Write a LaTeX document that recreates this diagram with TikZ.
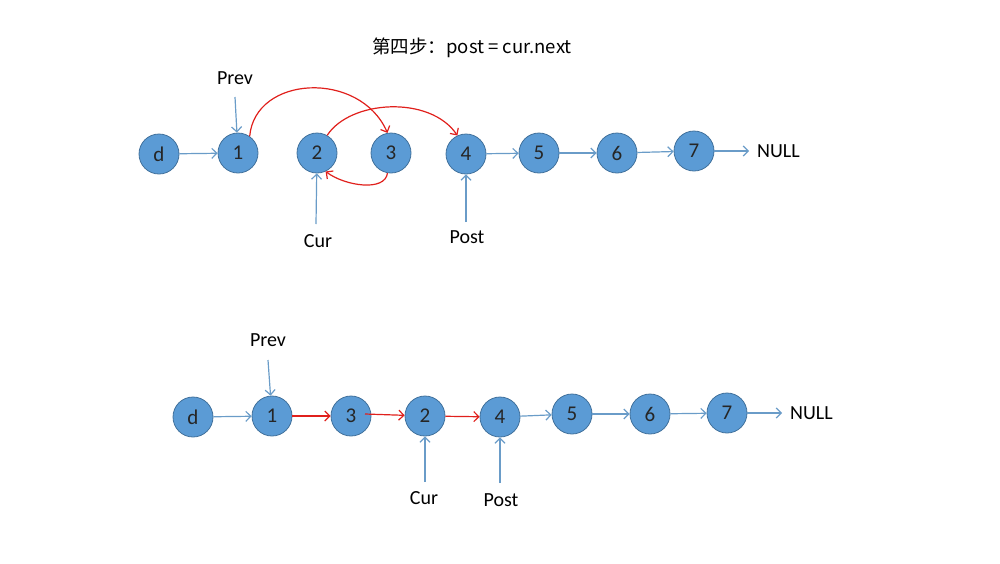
\documentclass[tikz,border=0pt]{standalone}
\usepackage{fontspec}
\setmainfont{Carlito}
\newfontfamily\cjk{Noto Sans CJK SC}
\usetikzlibrary{arrows.meta}
\definecolor{nodefill}{HTML}{5B9BD5}
\definecolor{nodeline}{HTML}{41719C}
\definecolor{bluearr}{HTML}{6A9CC8}
\definecolor{redarr}{HTML}{E0201C}
\begin{document}
\begin{tikzpicture}[x=1pt,y=-1pt,
  lnode/.style={circle,fill=nodefill,draw=nodeline,line width=0.8pt,minimum size=40pt,inner sep=0pt,font=\fontsize{21}{23}\selectfont,text=black!85},
  lbl/.style={font=\fontsize{20}{22}\selectfont,text=black,inner sep=1pt},
  barr/.style={draw=bluearr,line width=1.2pt,-{Straight Barb[length=5pt,width=10pt]}},
  rarr/.style={draw=redarr,line width=1.2pt,-{Straight Barb[length=5pt,width=10pt]}}]
\useasboundingbox (0,0) rectangle (1000,563);
% title
\node[font=\cjk\fontsize{18.5}{20}\selectfont] (title) at (472,48) {第四步：post = cur.next};
% top row
\node[lnode] (td) at (159,154) {d};
\node[lnode] (t1) at (238,153) {1};
\node[lnode] (t2) at (317,153) {2};
\node[lnode] (t3) at (391,153) {3};
\node[lnode] (t4) at (466,154) {4};
\node[lnode] (t5) at (539,153) {5};
\node[lnode] (t6) at (617,153) {6};
\node[lnode] (t7) at (694,151) {7};
\node[lbl,anchor=west] (tnull) at (756,151) {NULL};
\coordinate (tnulla) at (749,151);
\node[lbl] (tprev) at (235,78) {Prev};
\node[lbl] (tcur) at (318,241) {Cur};
\node[lbl] (tpost) at (467,237) {Post};
\coordinate (tprevs) at (235,97);
\coordinate (tcurs) at (316,224);
\coordinate (tposts) at (466,222);
\draw[barr] (td) -- (t1);
\draw[barr] (t4) -- (t5);
\draw[barr] (t5) -- (t6);
\draw[barr] (t6) -- (t7);
\draw[barr] (t7) -- (tnulla);
\draw[barr] (tprevs) -- (t1);
\draw[barr] (tcurs) -- (t2);
\draw[barr] (tposts) -- (t4);
\draw[rarr] (t1.55) .. controls (255,75) and (360,70) .. (t3.100);
\draw[rarr] (t2.60) .. controls (350,100) and (430,95) .. (t4.115);
\draw[rarr] (t3.-100) .. controls (385,192) and (345,186) .. (t2.-65);
% bottom row
\node[lnode] (bd) at (193,417) {d};
\node[lnode] (b1) at (272,416) {1};
\node[lnode] (b3) at (351,416) {3};
\node[lnode] (b2) at (425,416) {2};
\node[lnode] (b4) at (500,417) {4};
\node[lnode] (b5) at (572,414) {5};
\node[lnode] (b6) at (650,414) {6};
\node[lnode] (b7) at (727,413) {7};
\node[lbl,anchor=west] (bnull) at (789,413) {NULL};
\coordinate (bnulla) at (782,413);
\node[lbl] (bprev) at (268,340) {Prev};
\node[lbl] (bcur) at (424,498) {Cur};
\node[lbl] (bpost) at (501,500) {Post};
\coordinate (bprevs) at (268,360);
\coordinate (bcurs) at (425,482);
\coordinate (bposts) at (500,483);
\coordinate (b3s) at (365,414);
\draw[barr] (bd) -- (b1);
\draw[rarr] (b1) -- (b3);
\draw[rarr] (b3s) -- (b2);
\draw[rarr] (b2) -- (b4);
\draw[barr] (b4) -- (b5);
\draw[barr] (b5) -- (b6);
\draw[barr] (b6) -- (b7);
\draw[barr] (b7) -- (bnulla);
\draw[barr] (bprevs) -- (b1);
\draw[barr] (bcurs) -- (b2);
\draw[barr] (bposts) -- (b4);
\end{tikzpicture}
\end{document}
